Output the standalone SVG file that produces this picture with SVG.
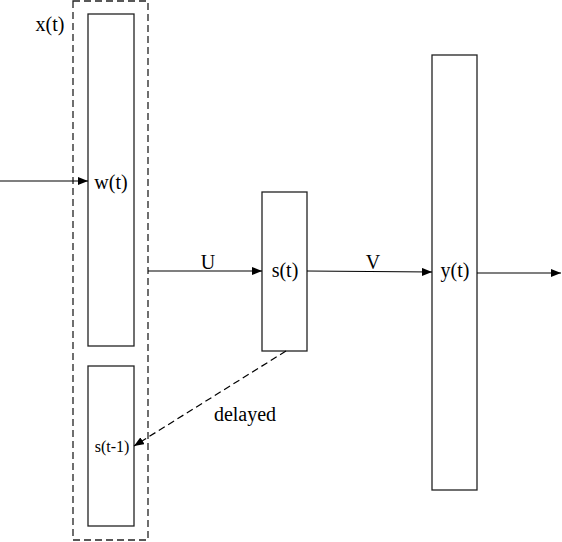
<svg xmlns="http://www.w3.org/2000/svg" width="562" height="542" viewBox="0 0 562 542">
<defs>
<marker id="ah" viewBox="0 0 10 8" refX="10" refY="4" markerWidth="10" markerHeight="8" markerUnits="userSpaceOnUse" orient="auto">
<path d="M0,0 L10,4 L0,8 z" fill="#000"/>
</marker>
<style>
.box{fill:#fff;stroke:#222;stroke-width:1.3}
.grp{fill:none;stroke:#222;stroke-width:1.3;stroke-dasharray:7 4}
.ln{fill:none;stroke:#000;stroke-width:1.2}
.dl{fill:none;stroke:#000;stroke-width:1.2;stroke-dasharray:7 4}
</style>
</defs>
<rect width="562" height="542" fill="#fff"/>
<g font-family="Liberation Serif" font-size="20" fill="#000" text-anchor="middle">
<g id="xgroup">
<rect class="grp" x="73" y="1" width="75" height="539"/>
<text x="50" y="31">x(t)</text>
</g>
<g id="w">
<rect class="box" x="88" y="14" width="46" height="332"/>
<text x="111" y="189">w(t)</text>
</g>
<g id="sprev">
<rect class="box" x="88" y="366" width="46" height="160"/>
<text font-size="16" x="112" y="452">s(t-1)</text>
</g>
<g id="s">
<rect class="box" x="262" y="192" width="45" height="159"/>
<text x="285" y="277">s(t)</text>
</g>
<g id="y">
<rect class="box" x="432" y="55" width="45" height="435"/>
<text x="455" y="277">y(t)</text>
</g>
<g id="connectors">
<line class="ln" x1="0" y1="181" x2="88" y2="181" marker-end="url(#ah)"/>
<line class="ln" x1="148" y1="271" x2="262" y2="271" marker-end="url(#ah)"/>
<text x="208" y="269">U</text>
<line class="ln" x1="307" y1="271" x2="432" y2="272" marker-end="url(#ah)"/>
<text x="373" y="269">V</text>
<line class="ln" x1="477" y1="273" x2="561" y2="273" marker-end="url(#ah)"/>
<line class="dl" x1="286" y1="351" x2="134" y2="446" marker-end="url(#ah)"/>
<text x="245" y="421">delayed</text>
</g>
</g>
</svg>
